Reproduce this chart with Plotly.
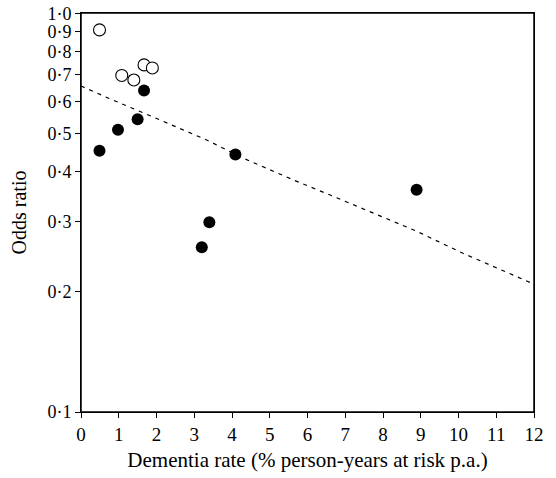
import plotly.graph_objects as go

open_x = [0.49, 1.08, 1.40, 1.67, 1.89]
open_y = [0.908, 0.698, 0.68, 0.742, 0.729]

filled_x = [0.49, 0.98, 1.50, 1.67, 4.09, 3.20, 3.40, 8.89]
filled_y = [0.452, 0.51, 0.542, 0.64, 0.442, 0.259, 0.299, 0.361]

line_x = [0.0, 0.73, 2.07, 3.33, 4.30, 5.62, 6.60, 7.74, 8.89, 10.12, 11.91]
line_y = [0.657, 0.612, 0.541, 0.481, 0.433, 0.382, 0.35, 0.315, 0.284, 0.25, 0.211]

y_tickvals = [0.1, 0.2, 0.3, 0.4, 0.5, 0.6, 0.7, 0.8, 0.9, 1.0]
y_ticktext = ["0·1", "0·2", "0·3", "0·4", "0·5", "0·6", "0·7", "0·8", "0·9", "1·0"]
x_tickvals = list(range(0, 13))

fig = go.Figure()
fig.add_trace(go.Scatter(x=line_x, y=line_y, mode="lines",
                         line=dict(color="black", width=1.2, dash="4px,5px"),
                         showlegend=False, hoverinfo="skip"))
fig.add_trace(go.Scatter(x=filled_x, y=filled_y, mode="markers",
                         marker=dict(color="black", size=12, line=dict(width=0)),
                         showlegend=False))
fig.add_trace(go.Scatter(x=open_x, y=open_y, mode="markers",
                         marker=dict(color="white", size=12,
                                     line=dict(color="black", width=1.1)),
                         showlegend=False))

fig.add_shape(type="rect", xref="paper", yref="paper", x0=0, y0=0, x1=1, y1=1,
              line=dict(color="black", width=1.5), fillcolor="rgba(0,0,0,0)",
              layer="above")

font = dict(family="Liberation Serif, Times New Roman, serif", color="black")
fig.update_layout(
    width=556, height=478,
    margin=dict(l=81, r=22, t=13, b=66),
    paper_bgcolor="white", plot_bgcolor="white",
    font=dict(size=19, **font),
)
fig.update_xaxes(range=[0, 12], tickvals=x_tickvals, ticks="outside", ticklen=5,
                 tickwidth=1, tickcolor="black", showline=True, linecolor="black",
                 linewidth=1, mirror=True, showgrid=False, zeroline=False,
                 automargin=False,
                 tickfont=dict(size=19, **font),
                 title=dict(text="Dementia rate (% person-years at risk p.a.)",
                            font=dict(size=21, **font), standoff=8))
fig.update_yaxes(type="log", range=[-1, 0.0005], tickvals=y_tickvals, ticktext=y_ticktext,
                 ticks="outside", ticklen=5, tickwidth=1, tickcolor="black",
                 showline=True, linecolor="black", linewidth=1, mirror=True,
                 showgrid=False, zeroline=False, ticklabeloverflow="allow",
                 automargin=False,
                 tickfont=dict(size=18, **font),
                 title=dict(text="Odds ratio", font=dict(size=20, **font), standoff=15))

fig.write_html("out.html", config={"displayModeBar": False},
               post_script="document.body.style.margin='0';document.body.style.overflow='hidden';")
